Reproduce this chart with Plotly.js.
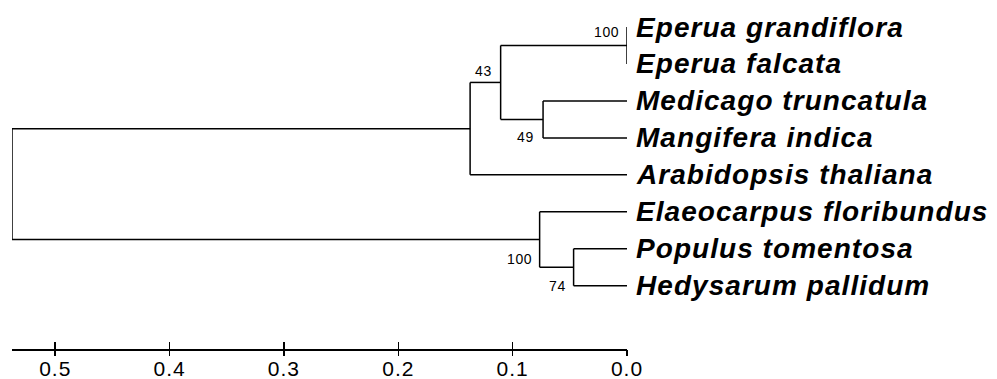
<!DOCTYPE html>
<html>
<head>
<meta charset="utf-8">
<script src="https://cdn.plot.ly/plotly-3.0.1.min.js"></script>
<style>
html,body{margin:0;padding:0;background:#fff;}
#chart{width:997px;height:379px;}
</style>
</head>
<body>
<div id="chart"></div>
<script>
// ---- data ----
var taxa = ["Eperua grandiflora","Eperua falcata","Medicago truncatula","Mangifera indica",
            "Arabidopsis thaliana","Elaeocarpus floribundus","Populus tomentosa","Hedysarum pallidum"];
var nodeIds      = ["n1","n2","n3","n4","n5","n6","root"];
var nodeHeights  = [0.0, 0.0734, 0.1105, 0.1372, 0.0467, 0.0764, 0.5378];
var nodeChildren = [["t0","t1"],["t2","t3"],["n1","n2"],["n3","t4"],["t6","t7"],["t5","n5"],["n4","n6"]];
var bootstrap    = [100, 49, 43, null, 74, 100, null];
var tickVals     = [0.5, 0.4, 0.3, 0.2, 0.1, 0.0];
var tickText     = ["0.5","0.4","0.3","0.2","0.1","0.0"];

// ---- label placement (styling) ----
var bsPlace = {n1:{dx:-6,dy:13}, n2:{dx:-7,dy:-18}, n3:{dx:-7,dy:11}, n5:{dx:-6,dy:-19}, n6:{dx:-6,dy:-19}};

// ---- build tree geometry ----
var pos = {};
taxa.forEach(function(t,i){ pos["t"+i] = {x:0, y:i}; });
nodeIds.forEach(function(id,k){
  var ch = nodeChildren[k].map(function(c){return pos[c];});
  var ys = ch.map(function(p){return p.y;});
  pos[id] = {x:nodeHeights[k], y:(Math.min.apply(null,ys)+Math.max.apply(null,ys))/2};
});
var lx=[], ly=[];
nodeIds.forEach(function(id,k){
  var p = pos[id];
  var ch = nodeChildren[k].map(function(c){return pos[c];});
  var ys = ch.map(function(q){return q.y;});
  lx.push(p.x,p.x,null); ly.push(Math.min.apply(null,ys),Math.max.apply(null,ys),null);
  ch.forEach(function(q){ lx.push(p.x,q.x,null); ly.push(q.y,q.y,null); });
});

var FONT = 'Liberation Sans, Arial, sans-serif';
var ann = [];
taxa.forEach(function(t,i){
  ann.push({x:0, y:i, xref:'x', yref:'y', xanchor:'left', yanchor:'middle', xshift:7, yshift:0,
    showarrow:false,
    text:'<span style="letter-spacing:1.05px">'+t+'</span>',
    font:{family:FONT, size:28, color:'#000', weight:'bold', style:'italic'}});
});
nodeIds.forEach(function(id,k){
  if(bootstrap[k]===null) return;
  var pl = bsPlace[id];
  ann.push({x:pos[id].x, y:pos[id].y, xref:'x', yref:'y', xanchor:'right', yanchor:'middle',
    xshift:pl.dx, yshift:pl.dy, showarrow:false,
    text:'<span style="letter-spacing:0.6px">'+bootstrap[k]+'</span>',
    font:{family:FONT, size:14, color:'#000'}});
});

var trace = {x:lx, y:ly, mode:'lines', type:'scatter', line:{color:'#000', width:1.5},
             hoverinfo:'skip', showlegend:false, cliponaxis:false};

var layout = {
  width:997, height:379,
  margin:{l:12, r:370, t:8, b:30},
  paper_bgcolor:'#fff', plot_bgcolor:'#fff',
  showlegend:false,
  xaxis:{range:[0.5378, 0], showgrid:false, zeroline:false, showline:true, linecolor:'#000', linewidth:1.5,
         ticks:'inside', ticklen:7, tickwidth:1.5, tickcolor:'#000',
         tickvals:tickVals, ticktext:tickText.map(function(s){return '<span style="letter-spacing:1px">'+s+'</span>';}),
         tickfont:{family:FONT, size:21, color:'#000'}},
  xaxis2:{range:[0.5378, 0], overlaying:'x', anchor:'y', side:'bottom', showgrid:false, zeroline:false,
          showline:false, ticks:'outside', ticklen:6, tickwidth:1.5, tickcolor:'#000',
          tickvals:tickVals, showticklabels:false},
  yaxis:{range:[8.712, -0.514], showgrid:false, zeroline:false, showline:false, showticklabels:false, ticks:''},
  annotations:ann
};
var trace2 = {x:[0.5], y:[0], xaxis:'x2', mode:'markers', marker:{opacity:0}, hoverinfo:'skip', showlegend:false};
Plotly.newPlot('chart',[trace, trace2],layout,{displayModeBar:false, staticPlot:true});
</script>
</body>
</html>
